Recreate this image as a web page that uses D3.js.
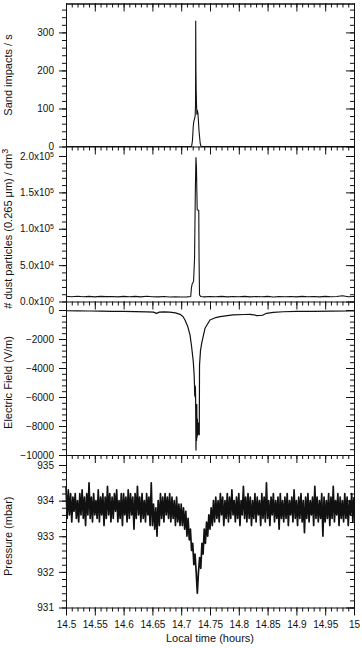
<!DOCTYPE html>
<html lang="en">
<head>
<meta charset="utf-8">
<title>Dust devil passage</title>
<script src="https://cdn.jsdelivr.net/npm/d3@7"></script>
<style>
  body { margin: 0; background: #fff; }
  svg { display: block; font-family: "Liberation Sans", Arial, sans-serif; }
  .tick text { font-size: 10px; fill: #111; }
  .tick line, .domain { stroke: #111; }
</style>
</head>
<body>
<script>
// Time axis (hours)
var timeTicks = [14.5, 14.55, 14.6, 14.65, 14.7, 14.75, 14.8, 14.85, 14.9, 14.95, 15];
var timeLabels = ["14.5", "14.55", "14.6", "14.65", "14.7", "14.75", "14.8", "14.85", "14.9", "14.95", "15"];

// Sand impacts / s
var sandTime = [14.5, 14.718, 14.7195, 14.7208, 14.7218, 14.723, 14.7242, 14.7249, 14.7252, 14.7256, 14.726, 14.7266, 14.7272, 14.728, 14.729, 14.7298, 14.731, 14.733, 14.7345, 15];
var sandCount = [0, 0, 15, 50, 65, 72, 80, 110, 330, 200, 150, 110, 85, 95, 88, 70, 40, 8, 0, 0];
var sandTicks = [0, 100, 200, 300];

// Dust particles / dm3
var dustTime = [14.5, 14.51, 14.52, 14.53, 14.54, 14.55, 14.56, 14.57, 14.58, 14.59, 14.6, 14.61, 14.62, 14.63, 14.64, 14.65, 14.66, 14.67, 14.68, 14.69, 14.7, 14.71,
  14.7165, 14.7178, 14.719, 14.7205, 14.7215, 14.7232, 14.7245, 14.7256, 14.7265, 14.7272, 14.7278, 14.7305, 14.731, 14.7318, 14.734,
  14.74, 14.75, 14.76, 14.77, 14.78, 14.79, 14.8, 14.81, 14.82, 14.83, 14.84, 14.85, 14.86, 14.87, 14.88, 14.89, 14.9, 14.91, 14.92, 14.93, 14.94, 14.95, 14.96, 14.97, 14.98, 14.99, 15];
var dustCount = [7200, 6500, 7300, 6600, 7000, 6400, 7100, 6700, 6900, 6300, 7000, 6500, 7100, 6400, 7200, 6600, 6300, 6900, 6100, 6500, 6200, 6400,
  6800, 19000, 24000, 26000, 28000, 60000, 150000, 198000, 185000, 150000, 126000, 125000, 60000, 9000, 6800,
  6400, 6900, 6500, 7000, 6300, 6800, 6600, 7100, 6400, 6900, 6500, 7000, 6200, 6700, 6500, 6900, 6300, 7000, 6600, 6800, 6400, 7100, 6500, 6900, 8000, 6600, 6800];
var dustTicks = [0, 5e4, 1e5, 1.5e5, 2e5];
var dustMant = ["0.0", "5.0", "1.0", "1.5", "2.0"];
var dustExp = ["0", "4", "5", "5", "5"];

// Electric field (V/m)
var efTime = [14.5, 14.52, 14.54, 14.56, 14.58, 14.6, 14.62, 14.64, 14.652, 14.657, 14.662, 14.67, 14.68, 14.69, 14.698, 14.703, 14.7066, 14.711, 14.7153, 14.718, 14.721, 14.7225,
  14.723, 14.7235, 14.7238, 14.7242, 14.7246, 14.725, 14.7257, 14.7262, 14.7267, 14.727, 14.7275, 14.728, 14.729, 14.73, 14.7314, 14.7318, 14.7335, 14.7356, 14.7413,
  14.75, 14.76, 14.7674, 14.79, 14.81, 14.8194, 14.826, 14.831, 14.837, 14.842, 14.848, 14.86, 14.877, 14.9, 14.93, 14.96, 14.993, 15];
var efValue = [-50, -60, -70, -80, -90, -100, -110, -130, -150, -230, -150, -130, -150, -200, -300, -450, -690, -1100, -1720, -2500, -3570, -4500,
  -5100, -5900, -5200, -6000, -5300, -6000, -9660, -7000, -9000, -6500, -8800, -7500, -8620, -7800, -8600, -3800, -2800, -2280, -1260,
  -690, -520, -460, -340, -310, -300, -330, -390, -380, -350, -230, -170, -120, -100, -90, -80, -70, -60];
var efTicks = [0, -2000, -4000, -6000, -8000, -10000];

// Pressure (mbar), one sample every 0.002 h from 14.5
var presStart = 14.5, presStep = 0.002;
var pressure = [
  934.4, 933.5, 934.3, 933.6, 934.2, 933.4, 934.1, 933.7, 934.2, 933.5,
  934.0, 933.4, 934.2, 933.6, 934.3, 933.5, 934.1, 933.3, 934.2, 933.6,
  934.5, 933.5, 934.1, 933.4, 934.2, 933.6, 934.0, 933.5, 934.3, 933.4,
  934.1, 933.6, 934.2, 933.3, 934.1, 933.5, 934.4, 933.6, 934.2, 933.4,
  934.1, 933.5, 934.2, 933.7, 934.3, 933.4, 934.0, 933.5, 934.2, 933.3,
  934.2, 933.6, 934.1, 933.4, 934.3, 933.5, 934.2, 933.6, 934.1, 933.2,
  934.2, 933.5, 934.4, 933.6, 934.1, 933.4, 934.2, 933.5, 934.0, 933.4,
  934.2, 933.6, 934.1, 933.3, 934.5, 933.3, 933.9, 933.2, 933.8, 933.0,
  934.0, 933.3, 934.2, 933.5, 934.1, 933.4, 934.2, 933.6, 934.1, 933.5,
  934.2, 933.4, 934.1, 933.5, 934.0, 933.3, 934.1, 933.4, 933.9, 933.3,
  933.9, 933.3, 933.8, 933.2, 933.7, 933.0, 933.5, 932.9, 933.2, 932.6,
  932.8, 932.2, 932.5, 932.0, 931.4, 932.0, 932.4, 932.1, 932.8, 932.5,
  933.2, 932.8, 933.4, 933.0, 933.6, 933.2, 933.8, 933.3, 934.0, 933.4,
  934.1, 933.5, 934.0, 933.4, 934.2, 933.6, 934.1, 933.3, 934.0, 933.5,
  934.2, 933.4, 934.1, 933.5, 934.3, 933.6, 934.0, 933.4, 934.1, 933.5,
  934.2, 933.3, 934.0, 933.6, 934.4, 933.5, 934.1, 933.4, 934.2, 933.5,
  934.1, 933.3, 934.0, 933.5, 934.2, 933.4, 934.1, 933.6, 934.0, 933.3,
  934.2, 933.5, 934.1, 933.4, 934.5, 933.5, 934.0, 933.3, 934.1, 933.6,
  934.2, 933.4, 934.0, 933.5, 934.1, 933.2, 934.2, 933.5, 934.0, 933.4,
  934.1, 933.5, 934.2, 933.3, 934.0, 933.6, 934.1, 933.4, 934.3, 933.5,
  934.0, 933.3, 934.1, 933.5, 934.2, 933.4, 934.0, 933.1, 934.1, 933.5,
  934.2, 933.4, 934.0, 933.6, 934.1, 933.3, 934.4, 933.5, 934.1, 933.4,
  934.0, 933.5, 934.2, 933.0, 934.1, 933.4, 934.0, 933.5, 934.2, 933.3,
  934.1, 933.5, 934.4, 933.4, 934.0, 933.6, 934.2, 933.3, 934.1, 933.5,
  934.0, 933.4, 934.2, 933.5, 934.1, 933.3, 934.0, 933.6, 934.2, 933.4,
  934.1
];
var presTicks = [931, 932, 933, 934, 935];

var w = 362, h = 648;
var left = 66, right = 354;

var svg = d3.select("body").append("svg")
  .attr("width", w)
  .attr("height", h);

var x = d3.scaleLinear().domain([14.5, 15]).range([left, right]);
var xMinor = d3.range(14.5, 15.0001, 0.01);

var line = d3.line().curve(d3.curveLinear);

// one stacked panel
function panel(opts) {
  var y = d3.scaleLinear().domain(opts.domain).range([opts.bottom, opts.top]);
  var g = svg.append("g");

  // left axis, ticks pointing outward
  var gl = g.append("g").attr("transform", "translate(" + left + ",0)")
    .call(d3.axisLeft(y).tickValues(opts.minor).tickSize(4).tickFormat(""));
  gl.select(".domain").remove();
  var glm = g.append("g").attr("transform", "translate(" + left + ",0)")
    .call(d3.axisLeft(y).tickValues(opts.ticks).tickSize(7).tickPadding(5).tickFormat(opts.format || d3.format("d")));
  glm.select(".domain").remove();
  if (opts.labelFix) opts.labelFix(glm);

  // right axis, ticks pointing inward
  var gr = g.append("g").attr("transform", "translate(" + right + ",0)")
    .call(d3.axisRight(y).tickValues(opts.minor).tickSize(-4).tickFormat(""));
  gr.select(".domain").remove();
  var grm = g.append("g").attr("transform", "translate(" + right + ",0)")
    .call(d3.axisRight(y).tickValues(opts.ticks).tickSize(-8).tickFormat(""));
  grm.select(".domain").remove();

  // bottom axis, ticks hanging down
  var gb = g.append("g").attr("transform", "translate(0," + opts.bottom + ")")
    .call(d3.axisBottom(x).tickValues(xMinor).tickSize(4).tickFormat(""));
  gb.select(".domain").remove();
  g.append("g").attr("transform", "translate(0," + opts.bottom + ")")
    .call(d3.axisBottom(x).tickValues(timeTicks).tickSizeInner(8).tickSizeOuter(0).tickPadding(5)
      .tickFormat(opts.showX ? function(d, i) { return timeLabels[i]; } : ""));

  // data trace
  var pts = opts.t.map(function(t, i) { return [x(t), y(opts.v[i])]; });
  g.append("path")
    .attr("d", line(pts))
    .attr("fill", "none")
    .attr("stroke", "#111")
    .attr("stroke-width", opts.sw || 1.1)
    .attr("stroke-linejoin", "round");

  // axis title
  svg.append("text")
    .attr("transform", "rotate(-90)")
    .attr("x", -(opts.top + opts.bottom) / 2)
    .attr("y", 12)
    .attr("text-anchor", "middle")
    .attr("font-size", "11px")
    .attr("fill", "#111")
    .call(opts.title);

  return y;
}

// top panel also gets a top axis with ticks pointing down
var gt = svg.append("g").attr("transform", "translate(0,3.5)")
  .call(d3.axisTop(x).tickValues(xMinor).tickSize(-4).tickFormat(""));
gt.select(".domain").remove();
svg.append("g").attr("transform", "translate(0,3.5)")
  .call(d3.axisTop(x).tickValues(timeTicks).tickSizeInner(-8).tickSizeOuter(0).tickFormat(""));

panel({
  top: 3.5, bottom: 146.5, domain: [0, 376],
  ticks: sandTicks, minor: d3.range(0, 376, 20),
  t: sandTime, v: sandCount,
  title: function(s) { s.text("Sand impacts / s"); }
});

panel({
  top: 156, bottom: 301.5, domain: [0, 2e5],
  ticks: dustTicks, minor: d3.range(0, 2e5 + 1, 1e4),
  format: function() { return ""; },
  labelFix: function(g) {
    g.selectAll(".tick text").each(function(d, i) {
      var t = d3.select(this);
      t.append("tspan").text(dustMant[i] + "x10");
      t.append("tspan").attr("dy", "-0.45em").attr("font-size", "7px").text(dustExp[i]);
    });
  },
  t: dustTime, v: dustCount,
  title: function(s) {
    s.append("tspan").text("# dust particles (0.265 \u03bcm) / dm");
    s.append("tspan").attr("dy", "-0.4em").attr("font-size", "9px").text("3");
  }
});

panel({
  top: 310, bottom: 455, domain: [-10000, 0],
  ticks: efTicks, minor: d3.range(-10000, 1, 400),
  t: efTime, v: efValue, sw: 1.2,
  title: function(s) { s.text("Electric Field (V/m)"); }
});

var presTime = pressure.map(function(p, i) { return presStart + i * presStep; });
panel({
  top: 465, bottom: 607.5, domain: [931, 935],
  ticks: presTicks, minor: d3.range(931, 935.001, 0.2),
  t: presTime, v: pressure, sw: 1.7, showX: true,
  title: function(s) { s.text("Pressure (mbar)"); }
});

// continuous side frame lines
svg.append("line").attr("x1", left + 0.5).attr("x2", left + 0.5).attr("y1", 3.5).attr("y2", 608)
  .attr("stroke", "#111");
svg.append("line").attr("x1", right + 0.5).attr("x2", right + 0.5).attr("y1", 3.5).attr("y2", 608)
  .attr("stroke", "#111");
svg.append("line").attr("x1", left).attr("x2", right + 1).attr("y1", 4).attr("y2", 4)
  .attr("stroke", "#111");

svg.append("text")
  .attr("x", (left + right) / 2)
  .attr("y", 642)
  .attr("text-anchor", "middle")
  .attr("font-size", "11px")
  .attr("fill", "#111")
  .text("Local time (hours)");
</script>
</body>
</html>
